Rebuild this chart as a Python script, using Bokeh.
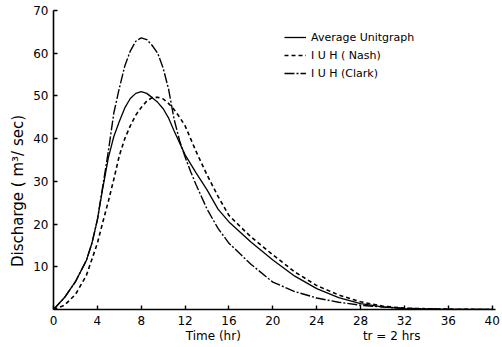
from bokeh.plotting import figure
from bokeh.models import Range1d, Legend, LegendItem, FixedTicker
from bokeh.embed import file_html
from bokeh.resources import INLINE

avg_t = [0, 1, 2, 3, 3.5, 4, 4.5, 5, 5.5, 6, 6.5, 7, 7.5, 8, 8.5, 9, 9.5, 10, 10.5, 11, 12, 13, 14, 15, 16, 18, 20, 22, 24, 26, 28, 30, 32, 36, 40]
average_uh = [0, 2.8, 6.5, 11.5, 15.5, 21, 28.5, 35.5, 40.5, 44, 47.2, 49.4, 50.6, 51, 50.6, 49.6, 48.5, 47, 44.8, 41.8, 36.2, 32, 28, 23.5, 20.5, 15.8, 11.6, 7.8, 4.9, 2.8, 1.4, 0.6, 0.2, 0.05, 0]

nash_t = [0, 1, 2, 3, 4, 4.5, 5, 5.5, 6, 6.5, 7, 7.5, 8, 8.5, 9, 9.5, 10, 10.5, 11, 11.5, 12, 12.5, 13, 14, 15, 16, 18, 20, 22, 24, 26, 28, 30, 32, 36, 40]
nash_iuh = [0, 1, 3.5, 8, 15.5, 20.5, 25.3, 30.5, 36, 40, 43, 45.5, 47.3, 48.8, 49.6, 49.7, 49.3, 48.2, 46.8, 45, 43, 40, 37, 31.5, 26.5, 22, 17, 12.8, 8.8, 5.6, 3.4, 1.8, 0.8, 0.3, 0.05, 0]

clark_t = [0, 1, 2, 3, 3.5, 4, 4.5, 5, 5.5, 6, 6.5, 7, 7.5, 8, 8.5, 9, 9.5, 10, 10.5, 11, 11.5, 12, 12.5, 13, 14, 15, 16, 18, 20, 22, 24, 26, 28, 30, 32, 36, 40]
clark_iuh = [0, 2.8, 6.5, 11.5, 15.5, 21, 29, 37, 46, 51.8, 57, 60.5, 62.8, 63.6, 63.2, 61.8, 60, 56.5, 51.5, 44.5, 39.5, 35.7, 32.3, 29.2, 23.5, 19, 15.5, 10.6, 6.4, 4.2, 2.7, 1.7, 1.0, 0.6, 0.3, 0.05, 0]

x_ticks = [0, 4, 8, 12, 16, 20, 24, 28, 32, 36, 40]
y_ticks = [10, 20, 30, 40, 50, 60, 70]

x_title = "Time (hr)"
note = "tr = 2 hrs"
y_title = "Discharge ( m³/ sec)"

FONT = "DejaVu Sans"
NB = "\u00a0"

p = figure(width=502, height=347, output_backend="svg", toolbar_location=None,
           x_range=Range1d(0, 40.3), y_range=Range1d(0, 70),
           min_border_left=53, min_border_right=7, min_border_top=10, min_border_bottom=38)
p.outline_line_color = None
p.grid.visible = False

for ax in (p.xaxis[0], p.yaxis[0]):
    ax.axis_line_width = 1.6
    ax.axis_line_color = "black"
    ax.major_tick_in = 4
    ax.major_tick_out = 0
    ax.major_tick_line_width = 1.4
    ax.minor_tick_line_color = None
    ax.major_label_text_font = FONT
    ax.major_label_text_font_size = "12px"
    ax.major_label_text_color = "black"
    ax.axis_label_text_font = FONT
    ax.axis_label_text_font_style = "normal"
    ax.axis_label_text_color = "black"

p.xaxis.ticker = FixedTicker(ticks=x_ticks)
p.yaxis.ticker = FixedTicker(ticks=y_ticks)
p.xaxis.major_label_standoff = 6
p.yaxis.major_label_standoff = 5

# axis titles, padded with non-breaking spaces to sit where the reference puts them
p.xaxis.axis_label = NB * 15 + x_title + NB * 32 + note
p.xaxis.axis_label_text_font_size = "12px"
p.xaxis.axis_label_standoff = 1
p.yaxis.axis_label = y_title + NB * 13
p.yaxis.axis_label_text_font_size = "15px"
p.yaxis.axis_label_standoff = 3

r_avg = p.line(avg_t, average_uh, line_color="black", line_width=1.3)
r_nash = p.line(nash_t, nash_iuh, line_color="black", line_width=1.6, line_dash="4 3")
r_clark = p.line(clark_t, clark_iuh, line_color="black", line_width=1.4, line_dash="10 2 2 2")

legend = Legend(items=[LegendItem(label="Average Unitgraph", renderers=[r_avg]),
                       LegendItem(label="I U H ( Nash)", renderers=[r_nash]),
                       LegendItem(label="I U H (Clark)", renderers=[r_clark])],
                location=(231, 227), background_fill_alpha=0, border_line_color=None,
                label_text_font=FONT, label_text_font_size="11px", label_text_color="black",
                glyph_width=22, spacing=0, label_height=18, glyph_height=18, padding=0, margin=0)
p.add_layout(legend)

open("out.html", "w").write(file_html(p, INLINE))
